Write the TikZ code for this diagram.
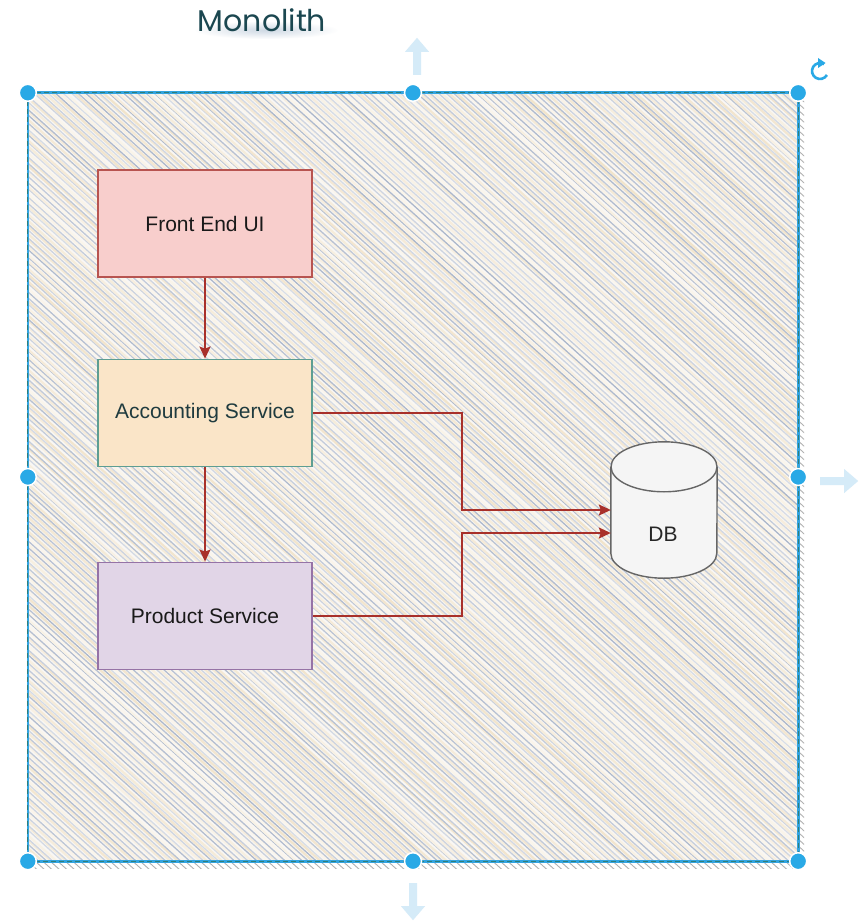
\documentclass[tikz,border=0pt]{standalone}
\usepackage{fontspec}
\setmainfont{Liberation Sans}
\newfontfamily\titlefont{Poppins}
\usetikzlibrary{arrows.meta,calc}

\definecolor{handleblue}{HTML}{29A9E6}
\definecolor{hintblue}{HTML}{D5EBF8}
\definecolor{edgeblue}{HTML}{33A4E0}
\definecolor{edgeteal}{HTML}{2F7F7A}
\definecolor{paper}{HTML}{F9F7F4}
\definecolor{hatchbeige}{HTML}{EFDFC2}
\definecolor{hatchgrey}{HTML}{A7B3C8}
\definecolor{linkred}{HTML}{A8302A}
\definecolor{titleink}{HTML}{1B4750}
\definecolor{titleglow}{HTML}{AFC0D2}
\definecolor{feFill}{HTML}{F8CECC}
\definecolor{feLine}{HTML}{B85450}
\definecolor{accFill}{HTML}{FAE5C8}
\definecolor{accLine}{HTML}{5D9E92}
\definecolor{accInk}{HTML}{1F3B3F}
\definecolor{prodFill}{HTML}{E1D5E7}
\definecolor{prodLine}{HTML}{9673A6}
\definecolor{dbFill}{HTML}{F5F5F5}
\definecolor{dbLine}{HTML}{666666}

\tikzset{
  svcbox/.style={draw, line width=1.8pt, minimum width=214pt, minimum height=107pt,
    inner sep=0pt, font=\fontsize{21}{25}\selectfont},
  link/.style={draw=linkred, line width=1.8pt,
    -{Stealth[length=12pt,width=11pt,inset=2pt]}},
  handle/.style={circle, fill=handleblue, draw=white, line width=1.5pt,
    minimum size=17pt, inner sep=0pt},
  hint/.style={fill=hintblue, draw=none},
}

\begin{document}
\begin{tikzpicture}[x=1pt,y=-1pt]
\useasboundingbox (0,0) rectangle (859,923);
\fill[white] (0,0) rectangle (859,923);

% title with a soft glow underneath
\shade[inner color=titleglow, outer color=white, opacity=.6] (266,30) ellipse[x radius=72, y radius=9];
\node[font=\titlefont\fontsize{30}{34}\selectfont, text=titleink] (title) at (262,20) {Monolith};

% container frame
\node[minimum width=770pt, minimum height=768pt, inner sep=0pt] (frame) at (413,477) {};

% hatched shadow showing past the lower right edges
\begin{scope}
  \clip ($(frame.north west)+(5,5)$) rectangle ($(frame.south east)+(6,7)$);
  \foreach \k in {0,...,250}
    \draw[black!30, line width=0.9pt] (-900+7.5*\k,60) -- ++(1000,900);
\end{scope}

% sketchy hachure fill
\fill[paper] (frame.north west) rectangle (frame.south east);
\pgfmathsetseed{11}
\begin{scope}
  \clip (frame.north west) rectangle (frame.south east);
  \foreach \k in {0,...,250}{
    \pgfmathsetmacro\bshade{30+55*rnd}
    \pgfmathsetmacro\gshade{45+50*rnd}
    \pgfmathsetmacro\jit{1.2*rand}
    \draw[hatchbeige!\bshade!white, line width=2.2pt] (-900+7.5*\k+\jit,60) -- ++(1000,900);
    \draw[hatchgrey!\gshade!white, line width=1.3pt] (-896.2+7.5*\k-\jit,60) -- ++(1000,900);
  }
\end{scope}

% selected outline
\draw[edgeblue, line width=2.6pt] (frame.north west) rectangle (frame.south east);
\draw[edgeteal, line width=1.1pt, dash pattern=on 5pt off 3pt] (frame.north west) rectangle (frame.south east);

% services
\node[svcbox, fill=feFill, draw=feLine, text=black!90] (fe) at (205,223.5) {Front End UI};
\node[svcbox, fill=accFill, draw=accLine, text=accInk] (acc) at (205,413) {Accounting Service};
\node[svcbox, fill=prodFill, draw=prodLine, text=black!90] (prod) at (205,616) {Product Service};

% database cylinder
\node[minimum width=106pt, minimum height=136pt, inner sep=0pt] (db) at (664,510) {};
\fill[dbFill] ($(db.north west)+(0,25)$) arc[x radius=53, y radius=25, start angle=180, end angle=360]
  -- ($(db.south east)+(0,-25)$) arc[x radius=53, y radius=25, start angle=0, end angle=180] -- cycle;
\draw[dbLine, line width=1.4pt] ($(db.north west)+(0,25)$) -- ($(db.south west)+(0,-25)$)
  arc[x radius=53, y radius=25, start angle=180, end angle=0] -- ($(db.north east)+(0,25)$);
\draw[dbLine, line width=1.4pt] ($(db.north)+(0,25)$) ellipse[x radius=53, y radius=25];
\node[font=\fontsize{21}{25}\selectfont, text=black!85] (dblabel) at ($(db.center)+(-1,24)$) {DB};
\coordinate (dbin1) at (db.west);
\coordinate (dbin2) at ($(db.west)+(0,23)$);

% connectors
\draw[link] (fe) -- (acc);
\draw[link] (acc) -- (prod);
\draw[link] (acc.east) -- ++(149,0) |- (dbin1);
\draw[link] (prod.east) -- ++(149,0) |- (dbin2);

% resize handles
\foreach \a/\n in {north west/h1, north/h2, north east/h3, west/h4, east/h5,
                   south west/h6, south/h7, south east/h8}
  \node[handle] (\n) at (frame.\a) {};

% drag hints
\fill[hint] ($(h2)+(4,-55)$) -- ++(12,14) -- ++(-8,0) -- ++(0,23) -- ++(-8,0) -- ++(0,-23) -- ++(-8,0) -- cycle;
\fill[hint] ($(h5)+(60,4)$) -- ++(-14,12) -- ++(0,-8) -- ++(-24,0) -- ++(0,-8) -- ++(24,0) -- ++(0,-8) -- cycle;
\fill[hint] ($(h7)+(0,59)$) -- ++(12,-14) -- ++(-8,0) -- ++(0,-23) -- ++(-8,0) -- ++(0,23) -- ++(-8,0) -- cycle;

% rotate handle
\coordinate (rot) at (820,71);
\draw[handleblue, line width=2.6pt] ($(rot)+(-60:8)$) arc[radius=8, start angle=-60, end angle=-330];
\fill[handleblue] ($(rot)+(0,-8)$) ++(-2,-5) -- ++(7.5,5) -- ++(-7.5,5) -- cycle;
\end{tikzpicture}
\end{document}
